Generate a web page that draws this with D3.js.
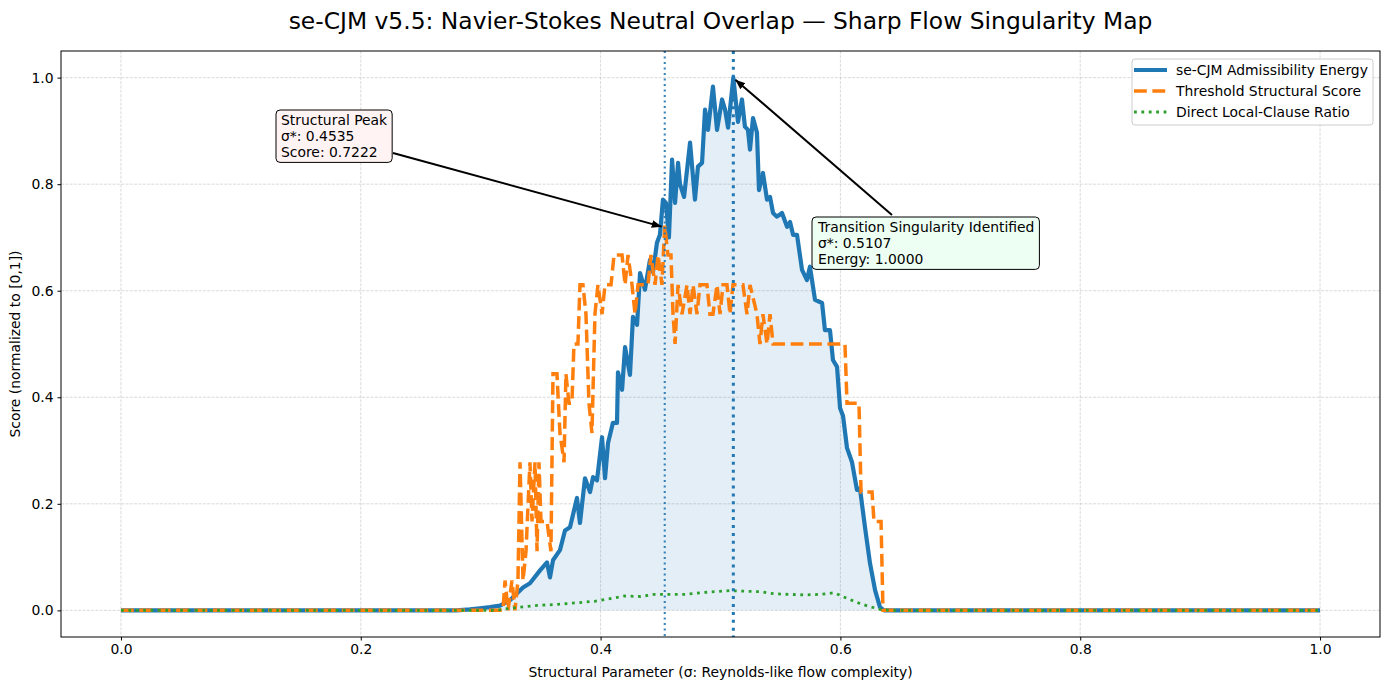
<!DOCTYPE html>
<html>
<head>
<meta charset="utf-8">
<script src="https://cdn.jsdelivr.net/npm/d3@7"></script>
<style>
  body { margin: 0; background: #fff; }
  svg { display: block; font-family: "DejaVu Sans", sans-serif; }
</style>
</head>
<body>
<script>
// blue curve: admissibility energy (sigma, value)
const energySigma = [0, 0.28, 0.291, 0.2994, 0.3078, 0.3161, 0.3244, 0.3353, 0.3411, 0.3495, 0.3553, 0.3578, 0.3603, 0.3661, 0.3703, 0.3745,
  0.3803, 0.3828, 0.3870, 0.3912, 0.3937, 0.3970, 0.4012, 0.4037, 0.4062, 0.4103, 0.4137, 0.4145, 0.4179, 0.4204, 0.4245, 0.4270,
  0.4304, 0.4329, 0.4370, 0.4412, 0.4437, 0.4470, 0.4495, 0.4520, 0.4545, 0.4570, 0.4596, 0.4621, 0.4646, 0.4662, 0.4696, 0.4746,
  0.4787, 0.4812, 0.4846, 0.4871, 0.4896, 0.4937, 0.4971, 0.5013, 0.5038, 0.5063, 0.5107, 0.5146, 0.5179, 0.5204, 0.5229, 0.5246,
  0.5271, 0.5304, 0.5321, 0.5354, 0.5388, 0.5413, 0.5438, 0.5471, 0.5513, 0.5555, 0.5580, 0.5605, 0.5638, 0.5680, 0.5721, 0.5746,
  0.5788, 0.5847, 0.5871, 0.5913, 0.5938, 0.5972, 0.5997, 0.6022, 0.6055, 0.6097, 0.6138, 0.6163, 0.6205, 0.6247, 0.6289, 0.6330,
  0.6364, 1.0];
const energyValue = [0, 0, 0.002, 0.004, 0.006, 0.009, 0.019, 0.043, 0.051, 0.075, 0.090, 0.062, 0.094, 0.113, 0.150, 0.156,
  0.211, 0.164, 0.248, 0.222, 0.250, 0.244, 0.325, 0.248, 0.314, 0.352, 0.352, 0.447, 0.414, 0.494, 0.442, 0.551,
  0.536, 0.633, 0.602, 0.658, 0.635, 0.690, 0.705, 0.771, 0.765, 0.700, 0.846, 0.765, 0.840, 0.800, 0.776, 0.878,
  0.771, 0.833, 0.840, 0.940, 0.902, 0.983, 0.902, 0.959, 0.940, 0.906, 1.000, 0.917, 0.959, 0.908, 0.902, 0.865,
  0.924, 0.897, 0.789, 0.821, 0.771, 0.776, 0.746, 0.739, 0.746, 0.720, 0.729, 0.705, 0.705, 0.639, 0.620, 0.645,
  0.583, 0.577, 0.526, 0.526, 0.470, 0.457, 0.380, 0.365, 0.305, 0.278, 0.226, 0.229, 0.156, 0.088, 0.038, 0.006,
  0, 0];

// orange dashed: threshold structural score
const scoreSigma = [0, 0.3186, 0.3203, 0.3228, 0.3261, 0.3286, 0.3311, 0.3328, 0.3353, 0.3378, 0.3411, 0.3428, 0.3453, 0.3470, 0.3486, 0.3503,
  0.3553, 0.3586, 0.3603, 0.3636, 0.3661, 0.3695, 0.3711, 0.3736, 0.3761, 0.3778, 0.3811, 0.3828, 0.3853, 0.3878, 0.3903, 0.3928,
  0.3953, 0.3978, 0.4012, 0.4037, 0.4087, 0.4112, 0.4179, 0.4204, 0.4229, 0.4262, 0.4287, 0.4312, 0.4395, 0.4420, 0.4454, 0.4479,
  0.4512, 0.4535, 0.4562, 0.4587, 0.4604, 0.4621, 0.4646, 0.4679, 0.4721, 0.4746, 0.4771, 0.4804, 0.4829, 0.4887, 0.4912, 0.4937,
  0.4971, 0.4996, 0.5021, 0.5054, 0.5079, 0.5104, 0.5187, 0.5221, 0.5246, 0.5304, 0.5329, 0.5354, 0.5388, 0.5413, 0.5438, 0.6038,
  0.6055, 0.6155, 0.6172, 0.6264, 0.6280, 0.6339, 0.6355, 1.0];
const scoreValue = [0, 0, 0.056, 0, 0.056, 0, 0.056, 0.278, 0.056, 0.111, 0.278, 0.167, 0.278, 0.111, 0.278, 0.167,
  0.167, 0.111, 0.444, 0.444, 0.333, 0.278, 0.444, 0.389, 0.389, 0.5, 0.5, 0.611, 0.611, 0.556, 0.389, 0.333,
  0.556, 0.611, 0.556, 0.611, 0.611, 0.667, 0.667, 0.611, 0.667, 0.611, 0.556, 0.611, 0.611, 0.667, 0.611, 0.667,
  0.611, 0.7222, 0.667, 0.667, 0.556, 0.5, 0.611, 0.556, 0.611, 0.556, 0.611, 0.556, 0.611, 0.611, 0.556, 0.556,
  0.611, 0.556, 0.611, 0.611, 0.556, 0.611, 0.611, 0.556, 0.611, 0.556, 0.5, 0.556, 0.5, 0.556, 0.5, 0.5,
  0.389, 0.389, 0.222, 0.222, 0.167, 0.167, 0, 0];

// green dotted: direct local-clause ratio
const ratioSigma = [0, 0.312, 0.329, 0.345, 0.362, 0.379, 0.395, 0.408, 0.420, 0.433, 0.445, 0.458, 0.470, 0.483, 0.495, 0.508,
  0.520, 0.533, 0.545, 0.558, 0.570, 0.583, 0.595, 0.606, 0.615, 0.623, 0.633, 0.641, 1.0];
const ratioValue = [0, 0, 0.005, 0.009, 0.011, 0.014, 0.017, 0.022, 0.027, 0.026, 0.030, 0.030, 0.030, 0.033, 0.035, 0.037,
  0.036, 0.035, 0.031, 0.030, 0.029, 0.030, 0.033, 0.022, 0.014, 0.008, 0.002, 0, 0];

const xTicks = [0.0, 0.2, 0.4, 0.6, 0.8, 1.0];
const yTicks = [0.0, 0.2, 0.4, 0.6, 0.8, 1.0];
const seriesNames = ["se-CJM Admissibility Energy", "Threshold Structural Score", "Direct Local-Clause Ratio"];

const peakSigma = 0.4535, peakScore = 0.7222;
const transSigma = 0.5107, transEnergy = 1.0;

const width = 1389, height = 690;
const margin = { left: 61, right: 9, top: 51, bottom: 53 };
const fs = 13.9;

const svg = d3.select("body").append("svg")
  .attr("width", width)
  .attr("height", height);

const x = d3.scaleLinear().domain([-0.05, 1.05]).range([margin.left, width - margin.right]);
const y = d3.scaleLinear().domain([-0.05, 1.05]).range([height - margin.bottom, margin.top]);

const zip = (a, b) => a.map((s, i) => [s, b[i]]);
const energy = zip(energySigma, energyValue);
const score = zip(scoreSigma, scoreValue);
const ratio = zip(ratioSigma, ratioValue);

// grid
const grid = svg.append("g");
grid.selectAll(".gx").data(xTicks).join("line")
  .attr("x1", d => x(d)).attr("x2", d => x(d))
  .attr("y1", margin.top).attr("y2", height - margin.bottom)
  .attr("stroke", "#b0b0b0").attr("stroke-opacity", 0.6)
  .attr("stroke-width", 0.8).attr("stroke-dasharray", "3,1.3");
grid.selectAll(".gy").data(yTicks).join("line")
  .attr("y1", d => y(d)).attr("y2", d => y(d))
  .attr("x1", margin.left).attr("x2", width - margin.right)
  .attr("stroke", "#b0b0b0").attr("stroke-opacity", 0.6)
  .attr("stroke-width", 0.8).attr("stroke-dasharray", "3,1.3");

// fill under energy
svg.append("path")
  .datum(energy)
  .attr("fill", "#1f77b4").attr("fill-opacity", 0.12)
  .attr("d", d3.area().x(d => x(d[0])).y0(y(0)).y1(d => y(d[1])));

const line = d3.line().x(d => x(d[0])).y(d => y(d[1]));

svg.append("path").datum(energy)
  .attr("fill", "none").attr("stroke", "#1f77b4").attr("stroke-width", 4.2)
  .attr("stroke-linejoin", "round").attr("stroke-linecap", "butt")
  .attr("d", line);

svg.append("path").datum(score)
  .attr("fill", "none").attr("stroke", "#ff7f0e").attr("stroke-width", 3.5)
  .attr("stroke-dasharray", "12.8,5.6")
  .attr("d", line);

svg.append("path").datum(ratio)
  .attr("fill", "none").attr("stroke", "#2ca02c").attr("stroke-width", 2.8)
  .attr("stroke-dasharray", "2.8,4.6")
  .attr("d", line);

// vertical markers
svg.append("line")
  .attr("x1", x(peakSigma)).attr("x2", x(peakSigma))
  .attr("y1", margin.top).attr("y2", height - margin.bottom)
  .attr("stroke", "#1f77b4").attr("stroke-width", 2.1).attr("stroke-opacity", 0.9)
  .attr("stroke-dasharray", "2.1,3.4");
svg.append("line")
  .attr("x1", x(transSigma)).attr("x2", x(transSigma))
  .attr("y1", margin.top).attr("y2", height - margin.bottom)
  .attr("stroke", "#1f77b4").attr("stroke-width", 3)
  .attr("stroke-dasharray", "3,4.9");

// axes box
svg.append("rect")
  .attr("x", margin.left).attr("y", margin.top)
  .attr("width", width - margin.left - margin.right)
  .attr("height", height - margin.top - margin.bottom)
  .attr("fill", "none").attr("stroke", "#000").attr("stroke-width", 1);

const xAxis = svg.append("g")
  .attr("transform", `translate(0,${height - margin.bottom})`)
  .call(d3.axisBottom(x).tickValues(xTicks).tickFormat(d3.format(".1f")).tickSizeOuter(0).tickSize(3.5).tickPadding(4));
const yAxis = svg.append("g")
  .attr("transform", `translate(${margin.left},0)`)
  .call(d3.axisLeft(y).tickValues(yTicks).tickFormat(d3.format(".1f")).tickSizeOuter(0).tickSize(3.5).tickPadding(4));
[xAxis, yAxis].forEach(a => {
  a.select(".domain").remove();
  a.selectAll("text").attr("font-size", fs).attr("fill", "#000").attr("font-family", "DejaVu Sans");
  a.selectAll("line").attr("stroke", "#000");
});

// title & labels
svg.append("text")
  .attr("x", (margin.left + width - margin.right) / 2).attr("y", 29)
  .attr("text-anchor", "middle").attr("font-size", 23.4)
  .text("se-CJM v5.5: Navier-Stokes Neutral Overlap — Sharp Flow Singularity Map");
svg.append("text")
  .attr("x", (margin.left + width - margin.right) / 2).attr("y", 677)
  .attr("text-anchor", "middle").attr("font-size", fs)
  .text("Structural Parameter (σ: Reynolds-like flow complexity)");
svg.append("text")
  .attr("transform", `translate(20,${(margin.top + height - margin.bottom) / 2}) rotate(-90)`)
  .attr("text-anchor", "middle").attr("font-size", fs)
  .text("Score (normalized to [0,1])");

// arrowhead
svg.append("defs").append("marker")
  .attr("id", "arr").attr("viewBox", "0 0 10 10")
  .attr("refX", 10).attr("refY", 5)
  .attr("markerWidth", 5).attr("markerHeight", 5)
  .attr("markerUnits", "strokeWidth")
  .attr("orient", "auto")
  .append("path").attr("d", "M0,1 L10,5 L0,9 Z").attr("fill", "#000");

// annotations
function annotate(lines, tx, ty, fill, from, to) {
  svg.append("line")
    .attr("x1", from[0]).attr("y1", from[1])
    .attr("x2", to[0]).attr("y2", to[1])
    .attr("stroke", "#000").attr("stroke-width", 2)
    .attr("marker-end", "url(#arr)");
  const g = svg.append("g");
  const t = g.append("text").attr("font-size", fs);
  lines.forEach((s, i) => {
    t.append("tspan").attr("x", tx).attr("y", ty + 13 + i * 16.2).text(s);
  });
  const bb = t.node().getBBox();
  g.insert("rect", "text")
    .attr("x", bb.x - 5).attr("y", bb.y - 2)
    .attr("width", bb.width + 10).attr("height", bb.height + 4)
    .attr("rx", 4).attr("fill", fill).attr("stroke", "#000").attr("stroke-width", 1);
}

annotate(["Structural Peak", "σ*: " + peakSigma.toFixed(4), "Score: " + peakScore.toFixed(4)],
  281, 112, "#fff3f3", [393, 153], [x(peakSigma) - 3, y(peakScore) + 1]);
annotate(["Transition Singularity Identified", "σ*: " + transSigma.toFixed(4), "Energy: " + transEnergy.toFixed(4)],
  818, 219, "#edfff3", [892, 215], [x(transSigma) + 2, y(transEnergy) + 2]);

// legend
const lg = svg.append("g").attr("transform", "translate(1132,59)");
lg.append("rect").attr("width", 241).attr("height", 66).attr("rx", 3)
  .attr("fill", "#fff").attr("fill-opacity", 0.8).attr("stroke", "#ccc");
const styles = [
  { c: "#1f77b4", w: 4.2, d: null },
  { c: "#ff7f0e", w: 3.5, d: "12.8,5.6" },
  { c: "#2ca02c", w: 2.8, d: "2.8,4.6" }
];
seriesNames.forEach((n, i) => {
  const yy = 11 + i * 21;
  lg.append("line").attr("x1", 2).attr("x2", 35).attr("y1", yy).attr("y2", yy)
    .attr("stroke", styles[i].c).attr("stroke-width", styles[i].w)
    .attr("stroke-dasharray", styles[i].d);
  lg.append("text").attr("x", 44).attr("y", yy + 5).attr("font-size", fs).text(n);
});
</script>
</body>
</html>
